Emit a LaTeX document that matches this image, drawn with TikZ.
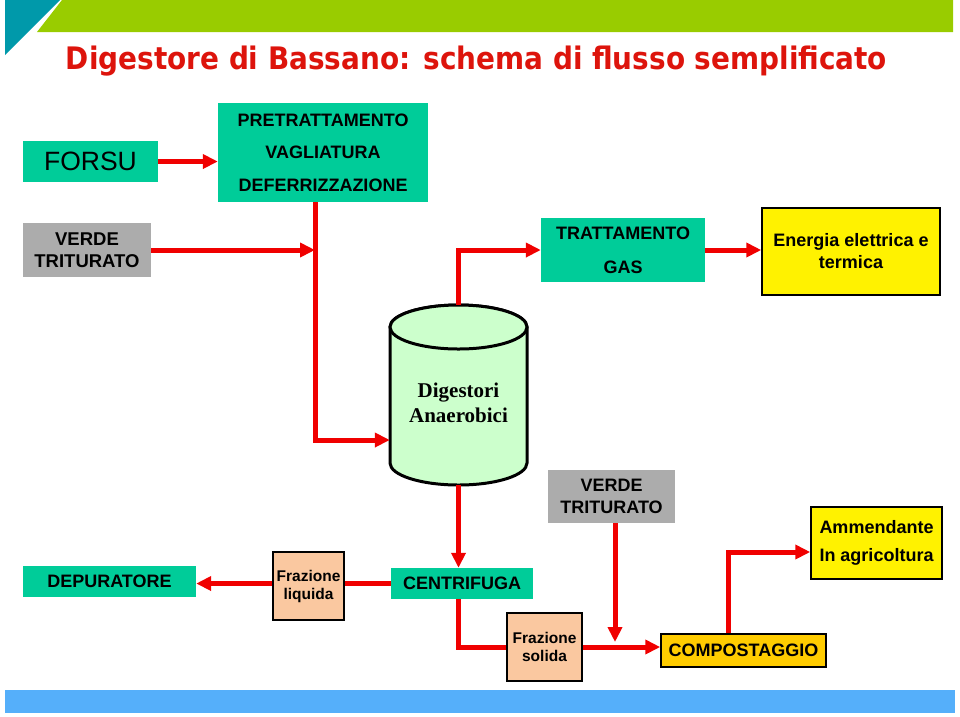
\documentclass[tikz,border=0pt]{standalone}
\usepackage{fontspec}
\setmainfont{Liberation Sans}
\newfontfamily\titlefont{DejaVu Sans Condensed}
\newfontfamily\digfont{Liberation Serif}
\usetikzlibrary{arrows.meta,calc}
\definecolor{boxteal}{RGB}{0,204,153}
\definecolor{boxgrey}{RGB}{172,172,172}
\definecolor{boxpeach}{RGB}{250,200,160}
\definecolor{boxgold}{RGB}{255,204,0}
\definecolor{flowred}{RGB}{240,0,0}
\definecolor{titlered}{RGB}{221,20,12}
\definecolor{digfill}{RGB}{204,255,204}
\definecolor{bandgreen}{RGB}{153,204,0}
\definecolor{bandteal}{RGB}{0,153,170}
\definecolor{bandblue}{RGB}{85,175,250}
\begin{document}
\begin{tikzpicture}[x=1pt,y=1pt,
  box/.style={inner sep=0pt,align=center,font=\bfseries\fontsize{18}{22}\selectfont},
  greenbox/.style={box,fill=boxteal},
  greybox/.style={box,fill=boxgrey},
  peachbox/.style={box,fill=boxpeach,draw=black,line width=1.5pt,font=\bfseries\fontsize{15.5}{18}\selectfont},
  yellowbox/.style={box,fill=yellow,draw=black,line width=1.5pt},
  goldbox/.style={box,fill=boxgold,draw=black,line width=1.5pt},
  pipe/.style={draw=flowred,line width=5pt},
  flow/.style={pipe,-{Triangle[length=15pt,width=14pt]}},
  cyl/.style={draw=black,line width=3pt,fill=digfill}]
\useasboundingbox (0,0) rectangle (960,-716);
\fill[bandteal] (5,0) -- (60,0) -- (5,-55) -- cycle;
\fill[bandgreen] (62,0) -- (953,0) -- (953,-32) -- (37,-32) -- cycle;
\fill[bandblue] (5,-690) rectangle (955,-713);
\node[anchor=base,text=titlered,font=\titlefont\bfseries\fontsize{31}{36}\selectfont] (title) at (476.5,-69) {Digestore di Bassano: schema di flusso semplificato};

\node[greenbox,minimum width=135pt,minimum height=41pt,font=\fontsize{26.5}{30}\selectfont] (forsu) at (90.5,-161.5) {FORSU};
\node[greenbox,minimum width=210pt,minimum height=99pt,font=\bfseries\fontsize{18}{32.5}\selectfont] (pre) at (323,-152.5) {PRETRATTAMENTO\\VAGLIATURA\\DEFERRIZZAZIONE};
\node[greybox,minimum width=128pt,minimum height=54pt,font=\bfseries\fontsize{18.5}{22}\selectfont] (verde) at (87,-250) {VERDE\\TRITURATO};
\node[greenbox,minimum width=164pt,minimum height=64pt,font=\bfseries\fontsize{18}{34}\selectfont] (gas) at (623,-250) {TRATTAMENTO\\GAS};
\node[yellowbox,minimum width=178pt,minimum height=87pt] (en) at (851,-251.5) {Energia elettrica e\\termica};

\draw[cyl] (390,-327) -- (390,-463) arc[start angle=180,end angle=360,x radius=68.5pt,y radius=22pt] -- (527,-327) arc[start angle=0,end angle=180,x radius=68.5pt,y radius=22pt] -- cycle;
\draw[cyl] (458.5,-327) ellipse[x radius=68.5pt,y radius=22pt];
\node[inner sep=0pt,minimum width=137pt,minimum height=180pt,label={[align=center,yshift=-8pt,font=\digfont\bfseries\fontsize{21}{25}\selectfont]center:Digestori\\Anaerobici}] (dig) at (458.5,-395) {};

\node[greenbox,minimum width=142pt,minimum height=31pt] (cen) at (462,-583.5) {CENTRIFUGA};
\node[peachbox,minimum width=71pt,minimum height=68pt] (liq) at (308.5,-586) {Frazione\\liquida};
\node[greenbox,minimum width=173pt,minimum height=31pt] (dep) at (109.5,-581.5) {DEPURATORE};
\node[peachbox,minimum width=75pt,minimum height=68pt] (sol) at (544.5,-647) {Frazione\\solida};
\node[greybox,minimum width=127pt,minimum height=53pt] (verde2) at (611.5,-496.5) {VERDE\\TRITURATO};
\node[goldbox,minimum width=165pt,minimum height=33pt] (comp) at (743.5,-650.5) {COMPOSTAGGIO};
\node[yellowbox,minimum width=131pt,minimum height=72pt,font=\bfseries\fontsize{18}{27.5}\selectfont] (amm) at (876.5,-543) {Ammendante\\In agricoltura};

\coordinate (knee) at (315,-440);
\coordinate (drop) at (615,-642);
\coordinate (rise) at (728,-552);
\draw[flow] (forsu.east) -- (pre.west |- forsu.east);
\draw[flow] (pre.south -| knee) -- (knee) -- (knee -| dig.west);
\draw[flow] (verde.east) -- (verde.east -| knee);
\draw[flow] (dig.north) |- (gas.west);
\draw[flow] (gas.east) -- (gas.east -| en.west);
\draw[flow] (dig.south) -- (dig.south |- cen.north);
\draw[pipe] (cen.west) -- (cen.west -| liq.east);
\draw[flow] (liq.west |- cen.west) -- (dep.east |- cen.west);
\draw[pipe] (cen.south -| dig.south) |- (sol.west);
\draw[flow] (sol.east) -- (sol.east -| comp.west);
\draw[flow] (verde2.south -| drop) -- (drop);
\draw[flow] (comp.north -| rise) -- (rise) -- (rise -| amm.west);
\end{tikzpicture}
\end{document}
